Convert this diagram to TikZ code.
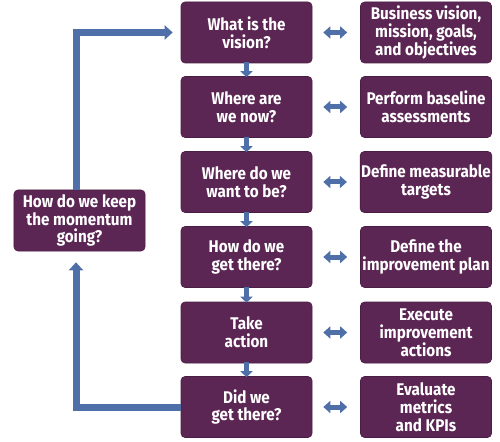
\documentclass[tikz,border=0pt]{standalone}
\usepackage{fontspec}
\setmainfont{Fira Sans}[FakeStretch=0.9]
\usetikzlibrary{arrows.meta}
\definecolor{boxpurple}{HTML}{5C2654}
\definecolor{arrowblue}{HTML}{4F6FA8}
\tikzset{
  box/.style={draw=boxpurple!80!black, line width=0.6bp, fill=boxpurple, rounded corners=4bp,
    minimum width=131bp, minimum height=61bp, inner xsep=1bp, inner ysep=2bp, text=white,
    font=\bfseries\fontsize{17}{18}\selectfont, align=center},
  downarrow/.style={draw=arrowblue, line width=5bp, -{Triangle[width=12bp,length=6bp]}},
  biarrow/.style={draw=arrowblue, line width=5bp, {Triangle[width=12bp,length=7bp]}-{Triangle[width=12bp,length=7bp]}},
  looparrow/.style={draw=arrowblue, line width=7bp, -{Triangle[width=14bp,length=8bp]}},
}
\begin{document}
\begin{tikzpicture}[x=1bp,y=-1bp]
\useasboundingbox (0,0) rectangle (500,442);
\node[box] (c1) at (246.5,32.5) {What is the\\vision?};
\node[box] (c2) at (246.5,107) {Where are\\we now?};
\node[box] (c3) at (246.5,182) {Where do we\\want to be?};
\node[box] (c4) at (246.5,257) {How do we\\get there?};
\node[box] (c5) at (246.5,332.5) {Take\\action};
\node[box] (c6) at (246.5,407) {Did we\\get there?};
\node[box] (r1) at (426,32.5) {Business vision,\\mission, goals,\\and objectives};
\node[box] (r2) at (426,107) {Perform baseline\\assessments};
\node[box] (r3) at (426,182) {Define measurable\\targets};
\node[box] (r4) at (426,257) {Define the\\improvement plan};
\node[box] (r5) at (426,332.5) {Execute\\improvement\\actions};
\node[box] (r6) at (426,407) {Evaluate\\metrics\\and KPIs};
\node[box] (L) at (79.5,220.5) {How do we keep\\the momentum\\going?};
\foreach \a/\b in {c1/c2,c2/c3,c3/c4,c4/c5,c5/c6}
  \draw[downarrow, shorten <=-1bp, shorten >=-1bp] (\a.south) -- (\b.north);
\foreach \i in {1,...,6}
  \draw[biarrow, shorten <=11bp, shorten >=13bp] (c\i.east) -- (r\i.west);
\draw[looparrow, shorten >=8bp] ([xshift=-3.5bp]L.north) |- (c1.west);
\draw[looparrow, shorten >=11bp] (c6.west) -| ([xshift=-3.5bp]L.south);
\end{tikzpicture}
\end{document}
